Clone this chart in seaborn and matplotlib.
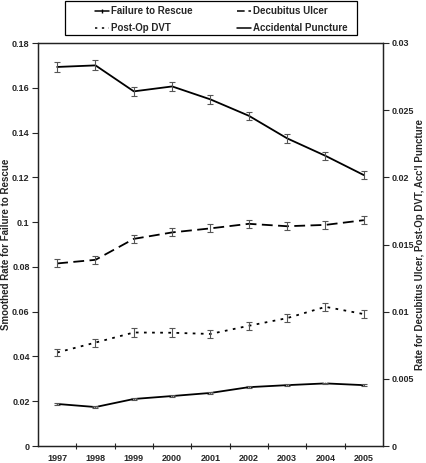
import matplotlib
matplotlib.use("Agg")
import matplotlib.pyplot as plt
import seaborn as sns
import pandas as pd
import numpy as np
from matplotlib.lines import Line2D
from matplotlib.patches import Rectangle
from matplotlib.ticker import FuncFormatter

years = ["1997", "1998", "1999", "2000", "2001", "2002", "2003", "2004", "2005"]
ftr = [0.1693, 0.1700, 0.1584, 0.1606, 0.1548, 0.1475, 0.1374, 0.1296, 0.1210]
ftr_err = [0.0022, 0.0022, 0.0021, 0.0021, 0.0019, 0.0019, 0.0019, 0.0019, 0.0019]
decub = [0.01359, 0.01386, 0.01542, 0.01590, 0.01620, 0.01654, 0.01636, 0.01646, 0.01681]
decub_err = [0.00030, 0.00032, 0.00032, 0.00030, 0.00030, 0.00030, 0.00030, 0.00030, 0.00030]
dvt = [0.00696, 0.00770, 0.00845, 0.00843, 0.00834, 0.00895, 0.00952, 0.01036, 0.00982]
dvt_err = [0.00028, 0.00030, 0.00030, 0.00032, 0.00030, 0.00030, 0.00030, 0.00030, 0.00030]
accp = [0.00313, 0.00290, 0.00350, 0.00372, 0.00395, 0.00438, 0.00453, 0.00466, 0.00453]
accp_err = [0.00005, 0.00005, 0.00005, 0.00005, 0.00005, 0.00005, 0.00005, 0.00005, 0.00005]

sns.set_style("ticks")
plt.rcParams['font.family'] = ['Liberation Sans', 'DejaVu Sans']
plt.rcParams['font.weight'] = 'bold'

FS = 7
TFS = 6.5
fig = plt.figure(figsize=(4.27, 4.63), dpi=100)
AX_L, AX_W = 38, 345
ax = fig.add_axes([AX_L/427, 1-446/463, AX_W/427, 403/463])
ax2 = ax.twinx()

x = np.arange(len(years))
df = pd.DataFrame({"x": x, "ftr": ftr, "decub": decub, "dvt": dvt, "accp": accp})

lw = 1.3
ecol = "#555555"
sns.lineplot(data=df, x="x", y="ftr", ax=ax, color="black", lw=lw)
ax.errorbar(x, ftr, yerr=ftr_err, fmt="none", ecolor=ecol, elinewidth=0.8, capsize=2.5, capthick=0.8)

sns.lineplot(data=df, x="x", y="decub", ax=ax2, color="black", lw=lw)
ax2.lines[-1].set_dashes([6, 3])
ax2.errorbar(x, decub, yerr=decub_err, fmt="none", ecolor=ecol, elinewidth=0.8, capsize=2.5, capthick=0.8)
sns.lineplot(data=df, x="x", y="dvt", ax=ax2, color="black", lw=lw)
ax2.lines[-1].set_dashes([1.5, 3])
ax2.errorbar(x, dvt, yerr=dvt_err, fmt="none", ecolor=ecol, elinewidth=0.8, capsize=2.5, capthick=0.8)
sns.lineplot(data=df, x="x", y="accp", ax=ax2, color="black", lw=lw, marker="x", markersize=3, markeredgewidth=0.8)
ax2.errorbar(x, accp, yerr=accp_err, fmt="none", ecolor=ecol, elinewidth=0.8, capsize=2, capthick=0.8)

ax.set_xlim(-0.5, len(years) - 0.5)
ax.set_ylim(0, 0.18)
ax2.set_ylim(0, 0.03)
ax.set_yticks(np.arange(0, 0.1801, 0.02))
ax2.set_yticks(np.arange(0, 0.03001, 0.005))
fmt = FuncFormatter(lambda v, p: "0" if abs(v) < 1e-12 else ("%g" % round(v, 4)))
ax.yaxis.set_major_formatter(fmt)
ax2.yaxis.set_major_formatter(fmt)

ax.set_xticks(x)
ax.set_xticklabels(years)
ax.set_xticks(np.arange(0.5, len(years) - 1, 1.0), minor=True)
ax.tick_params(axis="x", which="major", length=0, pad=6, labelsize=TFS)
ax.tick_params(axis="x", which="minor", length=5, direction="inout", width=0.8)
ax.tick_params(axis="y", length=4, width=0.8, labelsize=TFS, pad=2)
ax2.tick_params(axis="y", length=4, width=0.8, labelsize=TFS, pad=2)

ax.set_xlabel("")
ax.set_ylabel("Smoothed Rate for Failure to Rescue", fontsize=FS, fontweight="bold")
ax2.set_ylabel("Rate for Decubitus Ulcer, Post-Op DVT, Acc'l Puncture", fontsize=FS, fontweight="bold")
ax.yaxis.set_label_coords((6 - AX_L) / AX_W, 0.5)
ax2.yaxis.set_label_coords((420 - AX_L) / AX_W, 0.5)
ax.yaxis.label.set_va("center")
ax2.yaxis.label.set_va("center")

for a in (ax, ax2):
    for s in a.spines.values():
        s.set_visible(True)
        s.set_linewidth(0.9)
        s.set_color("#222222")

handles = [
    Line2D([], [], color="black", lw=1.1, marker="|", markersize=3),
    Line2D([], [], color="black", lw=1.1, dashes=[1.5, 3]),
    Line2D([], [], color="black", lw=1.1, dashes=[5, 2.5]),
    Line2D([], [], color="black", lw=1.1),
]
labels = ["Failure to Rescue", "Post-Op DVT", "Decubitus Ulcer", "Accidental Puncture"]
leg = fig.legend(handles, labels, ncol=2, loc="upper left",
                 bbox_to_anchor=(95/427, 1 - 6/463),
                 frameon=False, prop={"size": FS, "weight": "bold"},
                 handlelength=1.4, handletextpad=0.25, columnspacing=4.6,
                 borderpad=0, borderaxespad=0, labelspacing=0.75)
fig.patches.append(Rectangle((65/427, 1 - 35/463), 292/427, 34/463,
                             transform=fig.transFigure, fill=False,
                             edgecolor="black", lw=0.9))

fig.savefig("out.png", dpi=100)
